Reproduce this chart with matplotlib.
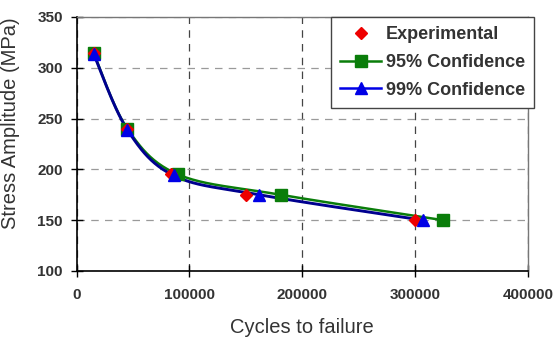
"""S-N curve: experimental points with 95% / 99% confidence curves."""
import numpy as np
import matplotlib
matplotlib.use("Agg")
import matplotlib.pyplot as plt
plt.rcParams["font.family"] = ["Liberation Sans", "DejaVu Sans"]

# data
exp_cycles = [15000, 45000, 84000, 150000, 300000]
exp_stress = [315, 240, 195, 175, 150]

c95_cycles = [15000, 45000, 90000, 181000, 325000]
c95_stress = [315, 240, 195, 175, 150]

c99_cycles = [15000, 45000, 86000, 162000, 307000]
c99_stress = [314, 239, 194, 175, 150]

x_ticks = [0, 100000, 200000, 300000, 400000]
y_ticks = [100, 150, 200, 250, 300, 350]


def smooth(xs, ys, n=40):
    """Catmull-Rom curve through the points (like Excel's smoothed line)."""
    p = np.column_stack([xs, ys]).astype(float)
    p = np.vstack([p[0], p, p[-1]])
    out = []
    t = np.linspace(0, 1, n)[:, None]
    for i in range(1, len(p) - 2):
        p0, p1, p2, p3 = p[i - 1], p[i], p[i + 1], p[i + 2]
        seg = 0.5 * ((2 * p1) + (-p0 + p2) * t
                     + (2 * p0 - 5 * p1 + 4 * p2 - p3) * t ** 2
                     + (-p0 + 3 * p1 - 3 * p2 + p3) * t ** 3)
        out.append(seg)
    out = np.vstack(out)
    return out[:, 0], out[:, 1]


fig = plt.figure(figsize=(5.55, 3.4), dpi=100)
ax = fig.add_axes([0.138, 0.203, 0.813, 0.747])

green = "#0a7d0a"
blue_line = "#00008f"
blue = "#0000e6"
text_col = "#333333"

sx, sy = smooth(c95_cycles, c95_stress)
ax.plot(sx, sy, color=green, lw=1.8, zorder=2)
sx, sy = smooth(c99_cycles, c99_stress)
ax.plot(sx, sy, color=blue_line, lw=2.1, zorder=3)

ax.plot(exp_cycles, exp_stress, "D", color="#ee0000", ms=6.5, zorder=4)
ax.plot(c95_cycles, c95_stress, "s", color=green, ms=9, zorder=3)
ax.plot(c99_cycles, c99_stress, "^", color=blue, ms=9, zorder=5)

# legend proxies
h_exp, = ax.plot([], [], "D", color="#ee0000", ms=6.5)
h_95, = ax.plot([], [], "s-", color=green, ms=9, lw=1.8)
h_99, = ax.plot([], [], "^-", color=blue, ms=9, lw=1.8)
leg = fig.legend([h_exp, h_95, h_99],
                 ["Experimental", "95% Confidence", "99% Confidence"],
                 loc="upper left", bbox_to_anchor=(0.596, 0.95),
                 prop={"weight": "bold", "size": 13}, fancybox=False,
                 framealpha=1, edgecolor="#444444", handlelength=2.3,
                 handletextpad=0.25, borderpad=0.5, labelspacing=0.6,
                 borderaxespad=0)
leg.get_frame().set_linewidth(1.0)
for t in leg.get_texts():
    t.set_color(text_col)

ax.set_xlim(0, 400000)
ax.set_ylim(100, 350)
ax.set_xticks(x_ticks)
ax.set_yticks(y_ticks)
ax.set_xticklabels([str(v) for v in x_ticks], fontweight="bold", fontsize=11,
                   color=text_col)
ax.set_yticklabels([str(v) for v in y_ticks], fontweight="bold", fontsize=11,
                   color=text_col)
ax.tick_params(direction="inout", length=8, width=1, color="black")
ax.tick_params(axis="x", pad=8)
ax.tick_params(axis="y", pad=6)
ax.xaxis.grid(True, color="#444444", linestyle=(0, (6, 5)), linewidth=0.9)
ax.yaxis.grid(True, color="#9a9a9a", linestyle=(0, (6, 5)), linewidth=0.9)
ax.set_axisbelow(True)

for side in ("top", "right"):
    ax.spines[side].set_color("#777777")
    ax.spines[side].set_linewidth(1.0)
for side in ("left", "bottom"):
    ax.spines[side].set_color("black")
    ax.spines[side].set_linewidth(1.2)

ax.set_xlabel("Cycles to failure", fontsize=14.5, labelpad=12, color=text_col)
ax.set_ylabel("Stress Amplitude (MPa)", fontsize=14.5, color=text_col)
ax.yaxis.set_label_coords(-0.126, 0.58)

fig.savefig("out.png", dpi=100)
